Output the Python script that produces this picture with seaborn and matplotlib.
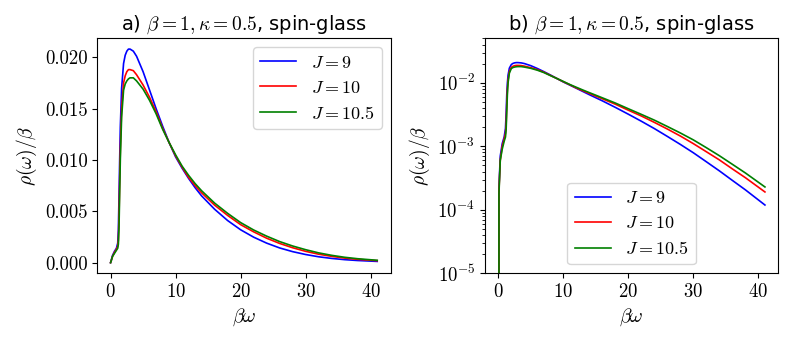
import matplotlib
matplotlib.use("Agg")
import matplotlib.pyplot as plt
import seaborn as sns
import pandas as pd

# ---- data ----
beta_omega = [0, 0.1, 0.3, 0.6, 0.9, 1.1, 1.2, 1.3, 1.4, 1.5, 1.7, 2.0, 2.25, 2.5, 2.75, 3, 3.5, 4,
              5, 6, 7, 8, 9, 10, 11, 12, 13, 14, 16, 18, 20, 22, 24, 26, 28, 30, 32, 34, 36, 38, 41]

rho_J9 = [0, 0.00022, 0.0007, 0.0011, 0.0014, 0.0019, 0.0032, 0.0065, 0.0100, 0.0132, 0.0170,
          0.0194, 0.0202, 0.0206, 0.0208, 0.0208, 0.0206, 0.0201, 0.0186, 0.0168, 0.0150, 0.0133,
          0.0117, 0.0103, 0.0092, 0.0082, 0.0073, 0.0065, 0.0052, 0.0041, 0.0032, 0.00248,
          0.00190, 0.00143, 0.00107, 0.00079, 0.00057, 0.00041, 0.00029, 0.000206, 0.000119]

rho_J10 = [0, 0.0002, 0.0006, 0.0010, 0.0013, 0.0016, 0.0022, 0.0045, 0.0080, 0.0110, 0.0150,
           0.0175, 0.0182, 0.0186, 0.0188, 0.0188, 0.0187, 0.0183, 0.0173, 0.0161, 0.0147, 0.0131,
           0.0117, 0.0104, 0.0093, 0.0083, 0.0075, 0.0068, 0.0056, 0.0046, 0.0037, 0.00300,
           0.00238, 0.00187, 0.00145, 0.00110, 0.00082, 0.00061, 0.00044, 0.00032, 0.000191]

rho_J105 = [0, 0.00018, 0.0006, 0.0009, 0.0012, 0.0014, 0.0018, 0.0035, 0.0068, 0.0100, 0.0142,
            0.0168, 0.0174, 0.0177, 0.0179, 0.0180, 0.0180, 0.0177, 0.0169, 0.0158, 0.0145, 0.0130,
            0.0117, 0.0105, 0.0094, 0.0085, 0.0077, 0.0070, 0.0058, 0.0048, 0.0039, 0.00318,
            0.00258, 0.00205, 0.00162, 0.00126, 0.00095, 0.00071, 0.00052, 0.00038, 0.000229]

labels = [r"$J = 9$", r"$J = 10$", r"$J = 10.5$"]
colors = ["blue", "red", "green"]

frames = []
for lab, vals in zip(labels, [rho_J9, rho_J10, rho_J105]):
    frames.append(pd.DataFrame({"x": beta_omega, "y": vals, "J": lab}))
df = pd.concat(frames, ignore_index=True)
palette = dict(zip(labels, colors))

plt.rcParams["font.family"] = ["cmr10", "DejaVu Serif"]
plt.rcParams["mathtext.fontset"] = "cm"
plt.rcParams["axes.formatter.use_mathtext"] = True
plt.rcParams["axes.unicode_minus"] = False

fig = plt.figure(figsize=(7.97, 3.37), dpi=100)
ax1 = fig.add_axes([0.122, 0.189, 0.368, 0.697])
ax2 = fig.add_axes([0.6085, 0.189, 0.368, 0.697])

for ax, panel in [(ax1, "a)"), (ax2, "b)")]:
    sns.lineplot(data=df, x="x", y="y", hue="J", hue_order=labels, palette=palette,
                 ax=ax, linewidth=1.2, sort=False, estimator=None)
    ax.set_xlabel(r"$\beta\omega$", fontsize=14)
    ax.set_ylabel(r"$\rho(\omega)/\beta$", fontsize=14)
    ax.set_title(panel + r" $\beta = 1, \kappa = 0.5$, spin-glass", fontsize=14,
                 family=["DejaVu Sans"])
    ax.tick_params(labelsize=13.5)
    ax.set_xticks([0, 10, 20, 30, 40])

ax1.set_yticks([0.0, 0.005, 0.010, 0.015, 0.020])
ax1.set_yticklabels(["0.000", "0.005", "0.010", "0.015", "0.020"])
ax1.legend(loc="upper right", fontsize=13, handlelength=2.0)

ax2.set_yscale("log")
ax2.set_ylim(1e-5, 5e-2)
ax2.legend(loc="lower center", fontsize=13, handlelength=2.0)

fig.savefig("out.png", dpi=100)
